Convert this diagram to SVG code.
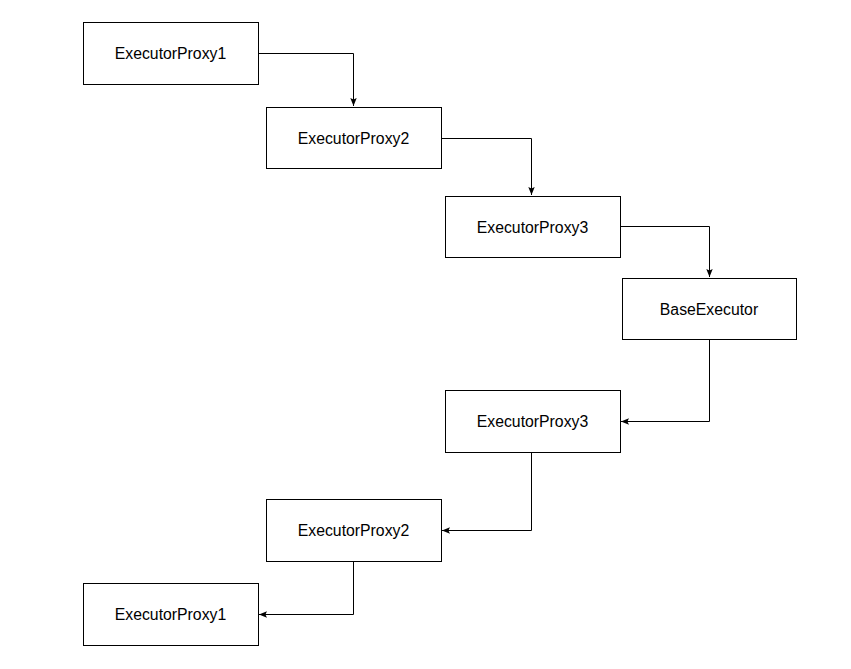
<svg xmlns="http://www.w3.org/2000/svg" width="851" height="669" viewBox="0 0 851 669">
<style>
.box{fill:#fff;stroke:#000;stroke-width:1}
.lbl{font-family:"Liberation Sans",Arial,Helvetica,sans-serif;font-size:15.8px;fill:#000;text-anchor:middle;dominant-baseline:central}
.edge{fill:none;stroke:#000;stroke-width:1}
</style>
<defs>
<marker id="arr" viewBox="0 0 10 10" refX="10" refY="5" markerWidth="8" markerHeight="8" markerUnits="userSpaceOnUse" orient="auto">
<path d="M0,1 L10,5 L0,9 L2,5 Z" fill="#000"/>
</marker>
</defs>
<rect width="851" height="669" fill="#fff"/>
<g id="connectors">
<path class="edge" d="M258.5,53.5 H353.5 V106" marker-end="url(#arr)"/>
<path class="edge" d="M441.5,138.5 H531.5 V195" marker-end="url(#arr)"/>
<path class="edge" d="M620.5,226.5 H709.5 V277" marker-end="url(#arr)"/>
<path class="edge" d="M709.5,339.5 V421.5 H621" marker-end="url(#arr)"/>
<path class="edge" d="M531.5,452.5 V530.5 H442" marker-end="url(#arr)"/>
<path class="edge" d="M353.5,561.5 V614.5 H259" marker-end="url(#arr)"/>
</g>
<g id="n1"><rect class="box" x="83.5" y="22.5" width="175" height="62"/><text class="lbl" x="170.5" y="53.5">ExecutorProxy1</text></g>
<g id="n2"><rect class="box" x="266.5" y="107.5" width="175" height="61"/><text class="lbl" x="353.5" y="138">ExecutorProxy2</text></g>
<g id="n3"><rect class="box" x="445.5" y="196.5" width="175" height="61"/><text class="lbl" x="532.5" y="227">ExecutorProxy3</text></g>
<g id="n4"><rect class="box" x="622.5" y="278.5" width="174" height="61"/><text class="lbl" x="709" y="309">BaseExecutor</text></g>
<g id="n5"><rect class="box" x="445.5" y="390.5" width="175" height="62"/><text class="lbl" x="532.5" y="421">ExecutorProxy3</text></g>
<g id="n6"><rect class="box" x="266.5" y="499.5" width="175" height="62"/><text class="lbl" x="353.5" y="530">ExecutorProxy2</text></g>
<g id="n7"><rect class="box" x="83.5" y="583.5" width="175" height="62"/><text class="lbl" x="170.5" y="614">ExecutorProxy1</text></g>
</svg>
